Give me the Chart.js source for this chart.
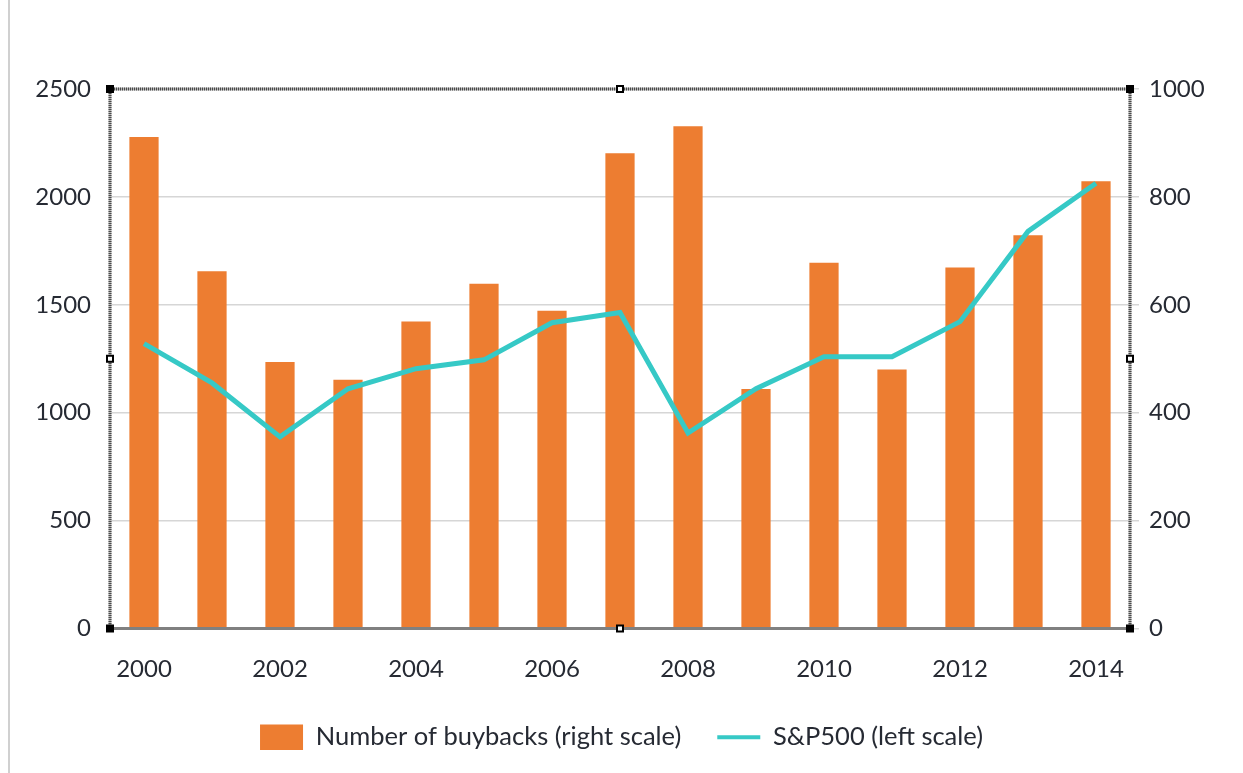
<!DOCTYPE html>
<html>
<head>
<meta charset="utf-8">
<script src="https://cdn.jsdelivr.net/npm/chart.js@4"></script>
<style>
  html, body { margin: 0; padding: 0; background: #fff; }
  #wrap { width: 1243px; height: 773px; position: relative; }
</style>
</head>
<body>
<div id="wrap"><canvas id="myChart"></canvas></div>
<script>
const years = ['2000','2001','2002','2003','2004','2005','2006','2007','2008','2009','2010','2011','2012','2013','2014'];
const buybacks = [911, 662, 494, 461, 569, 639, 589, 881, 931, 444, 678, 480, 669, 729, 829];
const sp500 = [1320, 1138, 888, 1111, 1204, 1245, 1417, 1464, 906, 1111, 1259, 1259, 1422, 1840, 2063];
const leftTicks = [0, 500, 1000, 1500, 2000, 2500];
const rightTicks = [0, 200, 400, 600, 800, 1000];

const textColor = '#262a33';
const fontFamily = 'Lato, "Open Sans", sans-serif';

// dotted selection frame with handles, plus the thin gray line at the left
const framePlugin = {
  id: 'frame',
  beforeDraw(chart) {
    const ctx = chart.ctx;
    ctx.save();
    ctx.fillStyle = '#fff';
    ctx.fillRect(0, 0, chart.width, chart.height);
    ctx.fillStyle = '#d0d0d0';
    ctx.fillRect(8, 0, 2, chart.height);
    ctx.restore();
  },
  afterDatasetsDraw(chart) {
    const {ctx, chartArea: a} = chart;
    ctx.save();
    ctx.lineWidth = 3;
    ctx.strokeStyle = '#b5b5b5';
    ctx.strokeRect(a.left, a.top, a.right - a.left, a.bottom - a.top);
    ctx.setLineDash([1, 1]);
    ctx.strokeStyle = '#4a4a4a';
    ctx.lineWidth = 3;
    ctx.strokeRect(a.left, a.top, a.right - a.left, a.bottom - a.top);
    ctx.setLineDash([]);
    const midX = (a.left + a.right) / 2;
    const midY = (a.top + a.bottom) / 2;
    ctx.fillStyle = '#000';
    const corners = [[a.left, a.top], [a.right, a.top], [a.left, a.bottom], [a.right, a.bottom]];
    corners.forEach(([x, y]) => ctx.fillRect(x - 4, y - 4, 8, 8));
    const mids = [[midX, a.top], [midX, a.bottom], [a.left, midY], [a.right, midY]];
    mids.forEach(([x, y]) => {
      ctx.fillRect(x - 4, y - 4, 8, 8);
      ctx.fillStyle = '#fff';
      ctx.fillRect(x - 2, y - 2, 4, 4);
      ctx.fillStyle = '#000';
    });
    ctx.restore();
  }
};

const ctx = document.getElementById('myChart').getContext('2d');

const chart = new Chart(ctx, {
  data: {
    labels: years,
    datasets: [{
      type: 'bar',
      label: 'Number of buybacks (right scale)',
      data: buybacks,
      yAxisID: 'yRight',
      backgroundColor: '#ED7D31',
      borderWidth: 0,
      barPercentage: 0.43,
      categoryPercentage: 1,
      order: 1,
    },
    {
      type: 'line',
      label: 'S&P500 (left scale)',
      data: sp500,
      yAxisID: 'yLeft',
      borderColor: '#36C9C6',
      backgroundColor: '#36C9C6',
      borderWidth: 5,
      pointRadius: 0,
      tension: 0,
      order: 0,
    }]
  },
  options: {
    responsive: true,
    maintainAspectRatio: false,
    animation: false,
    layout: {
      padding: { left: 0, right: 0, top: 89, bottom: 13 }
    },
    scales: {
      x: {
        grid: { display: false, drawTicks: false },
        border: { display: false },
        ticks: {
          color: textColor,
          font: { family: fontFamily, size: 24 },
          padding: 26,
          autoSkip: false,
          maxRotation: 0,
          callback: (val, i) => (i % 2 === 0 ? years[i] : ''),
        },
        afterFit: (scale) => { scale.height = 60; },
      },
      yLeft: {
        position: 'left',
        min: 0,
        max: 2500,
        afterBuildTicks: (scale) => { scale.ticks = leftTicks.map(v => ({value: v})); },
        grid: { color: '#d6d6d6', lineWidth: 1.5, drawTicks: false },
        border: { display: false },
        ticks: {
          color: textColor,
          font: { family: fontFamily, size: 24 },
          padding: 19,
          callback: (v) => String(v),
        },
        afterFit: (scale) => { scale.width = 110; },
      },
      yRight: {
        position: 'right',
        min: 0,
        max: 1000,
        afterBuildTicks: (scale) => { scale.ticks = rightTicks.map(v => ({value: v})); },
        grid: { drawOnChartArea: false, color: '#d6d6d6', lineWidth: 1.5, tickLength: 9 },
        border: { display: false },
        ticks: {
          color: textColor,
          font: { family: fontFamily, size: 24 },
          padding: 10,
          callback: (v) => String(v),
        },
        afterFit: (scale) => { scale.width = 113; },
      }
    },
    plugins: {
      legend: {
        display: true,
        position: 'bottom',
        labels: {
          usePointStyle: true,
          pointStyleWidth: 43,
          color: textColor,
          font: { family: fontFamily, size: 25.5 },
          padding: 36,
          sort: (a, b) => a.datasetIndex - b.datasetIndex,
          generateLabels: (chart) => chart.data.datasets.map((ds, i) => ({
            text: ds.label,
            fillStyle: ds.type === 'bar' ? ds.backgroundColor : 'rgba(0,0,0,0)',
            strokeStyle: ds.type === 'bar' ? ds.backgroundColor : ds.borderColor,
            lineWidth: ds.type === 'bar' ? 0 : 4,
            pointStyle: ds.type === 'bar' ? 'rect' : 'line',
            fontColor: textColor,
            datasetIndex: i,
            hidden: false,
          })),
        }
      },
      tooltip: { enabled: false }
    }
  },
  plugins: [framePlugin]
});
</script>
</body>
</html>
